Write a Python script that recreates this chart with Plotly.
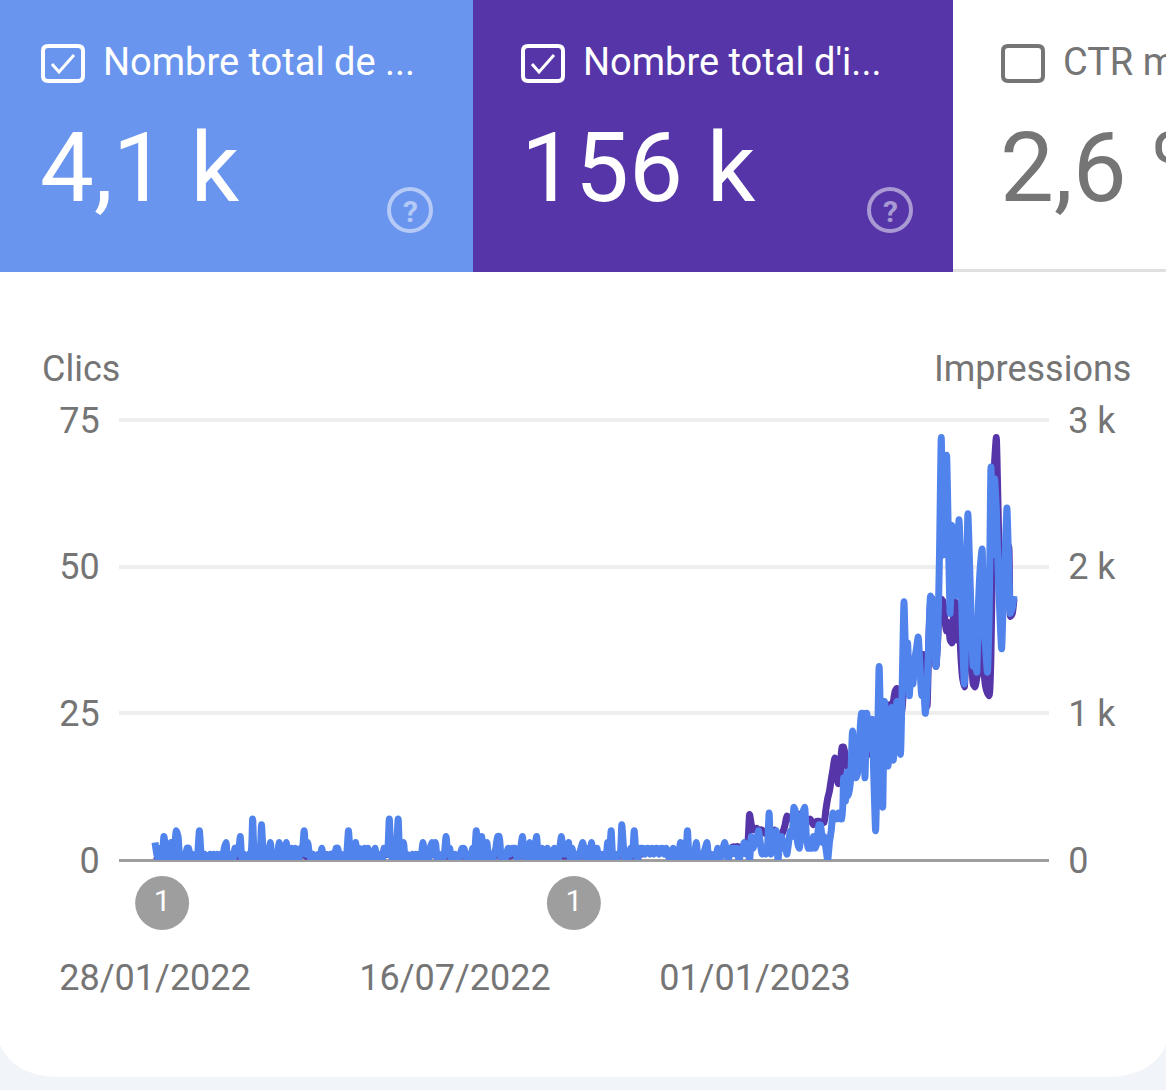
import plotly.graph_objects as go
import pandas as pd

# daily values, 28/01/2022 onwards
start_date = "2022-01-28"
clicks = [
    3, 1, 0, 2, 0, 4, 2, 0, 1, 3,
    0, 2, 5, 4, 0, 1, 0, 0, 2, 2,
    0, 1, 0, 0, 1, 5, 1, 0, 1, 0,
    0, 1, 0, 1, 0, 1, 0, 1, 0, 2,
    3, 0, 0, 1, 0, 2, 2, 1, 4, 0,
    1, 0, 0, 1, 1, 7, 0, 1, 1, 0,
    6, 1, 0, 0, 1, 3, 0, 1, 0, 1,
    3, 0, 1, 0, 3, 0, 1, 2, 0, 2,
    1, 0, 2, 2, 5, 1, 3, 1, 0, 1,
    0, 0, 1, 0, 2, 0, 1, 0, 0, 1,
    1, 0, 2, 2, 0, 1, 0, 0, 1, 5,
    1, 0, 1, 3, 0, 2, 1, 0, 2, 0,
    2, 0, 1, 0, 2, 0, 0, 1, 0, 2,
    2, 1, 7, 1, 0, 1, 2, 7, 0, 1,
    3, 0, 1, 0, 0, 1, 0, 1, 0, 1,
    1, 3, 0, 1, 0, 2, 3, 1, 3, 0,
    1, 0, 0, 1, 4, 1, 2, 0, 0, 1,
    0, 0, 1, 2, 2, 1, 0, 1, 0, 2,
    1, 5, 0, 1, 4, 1, 0, 3, 0, 1,
    0, 1, 2, 4, 4, 0, 1, 0, 1, 2,
    1, 2, 2, 2, 0, 1, 2, 4, 1, 0,
    2, 3, 1, 0, 2, 4, 0, 1, 2, 0,
    1, 2, 0, 0, 1, 2, 1, 0, 2, 4,
    1, 2, 1, 3, 0, 2, 0, 1, 0, 1,
    2, 3, 1, 0, 2, 1, 3, 0, 1, 2,
    0, 0, 1, 0, 0, 3, 1, 5, 0, 1,
    0, 1, 1, 6, 2, 0, 1, 0, 2, 1,
    5, 1, 0, 2, 2, 2, 1, 2, 2, 1,
    2, 1, 2, 2, 1, 2, 2, 1, 2, 1,
    0, 1, 2, 0, 1, 0, 3, 0, 2, 1,
    5, 0, 1, 0, 1, 3, 0, 1, 0, 1,
    2, 3, 0, 1, 0, 1, 0, 2, 0, 1,
    2, 3, 1, 0, 2, 1, 2, 1, 2, 0,
    1, 2, 3, 1, 2, 0, 4, 2, 3, 3,
    5, 3, 1, 2, 1, 2, 8, 1, 3, 2,
    5, 0, 3, 4, 2, 3, 1, 3, 5, 4,
    9, 8, 3, 2, 5, 8, 9, 4, 2, 2,
    2, 4, 2, 3, 6, 6, 3, 4, 2, 0,
    3, 5, 8, 7, 7, 8, 7, 7, 14, 10,
    15, 11, 14, 22, 18, 14, 15, 20, 25, 25,
    14, 25, 22, 19, 24, 14, 5, 18, 33, 20,
    9, 27, 22, 16, 21, 26, 17, 24, 27, 22,
    18, 30, 44, 35, 37, 28, 33, 30, 34, 36,
    38, 33, 28, 30, 25, 29, 38, 45, 44, 37,
    33, 38, 52, 72, 52, 58, 69, 55, 42, 57,
    48, 45, 50, 58, 50, 38, 30, 42, 59, 50,
    40, 33, 38, 32, 44, 50, 53, 40, 36, 32,
    42, 67, 52, 65, 60, 50, 42, 36, 45, 52,
    60, 50, 42, 43, 45,
]
impressions = [
    30, 22, 14, 28, 18, 36, 26, 12, 24, 40,
    16, 30, 44, 52, 20, 12, 22, 14, 30, 26,
    10, 20, 12, 14, 22, 38, 18, 10, 16, 12,
    14, 20, 10, 18, 12, 22, 16, 20, 14, 28,
    34, 16, 14, 22, 18, 30, 34, 24, 44, 20,
    36, 18, 14, 24, 26, 48, 18, 22, 26, 16,
    42, 24, 14, 12, 22, 36, 16, 24, 14, 22,
    34, 18, 22, 14, 32, 16, 20, 30, 18, 30,
    24, 14, 30, 34, 44, 24, 36, 22, 14, 20,
    12, 16, 22, 14, 28, 16, 22, 36, 14, 20,
    26, 14, 32, 30, 14, 22, 16, 18, 26, 46,
    24, 14, 22, 34, 16, 30, 24, 14, 30, 18,
    28, 14, 22, 16, 30, 14, 18, 24, 16, 32,
    36, 40, 52, 30, 16, 22, 34, 50, 18, 24,
    36, 16, 24, 14, 18, 24, 16, 22, 14, 20,
    24, 38, 16, 26, 18, 32, 40, 36, 44, 18,
    24, 14, 18, 22, 40, 26, 32, 14, 18, 22,
    14, 16, 24, 32, 30, 22, 14, 24, 18, 30,
    34, 44, 24, 22, 42, 28, 18, 36, 16, 24,
    14, 24, 30, 42, 40, 18, 22, 14, 24, 30,
    26, 32, 30, 34, 18, 24, 30, 40, 24, 14,
    30, 38, 24, 16, 30, 40, 18, 26, 30, 18,
    30, 36, 20, 18, 26, 30, 24, 14, 32, 42,
    26, 32, 24, 44, 20, 30, 18, 24, 18, 26,
    32, 38, 24, 18, 30, 26, 38, 18, 26, 30,
    18, 14, 24, 18, 16, 34, 24, 44, 30, 24,
    16, 26, 30, 44, 36, 22, 26, 16, 32, 26,
    42, 30, 26, 36, 40, 44, 52, 60, 64, 56,
    62, 48, 60, 66, 54, 60, 66, 50, 44, 32,
    20, 26, 34, 22, 30, 18, 38, 22, 32, 30,
    44, 22, 28, 18, 26, 38, 20, 24, 18, 26,
    32, 40, 22, 28, 20, 26, 18, 32, 24, 30,
    55, 62, 40, 58, 70, 85, 90, 88, 92, 86,
    60, 80, 70, 75, 110, 310, 240, 210, 205, 216,
    200, 205, 204, 190, 180, 175, 160, 170, 190, 204,
    180, 170, 160, 172, 200, 240, 300, 290, 280, 300,
    310, 300, 290, 312, 290, 270, 260, 255, 270, 280,
    264, 240, 250, 264, 264, 260, 256, 256, 344, 420,
    470, 548, 620, 696, 600, 520, 560, 768, 770, 700,
    640, 600, 620, 650, 700, 640, 620, 680, 720, 700,
    690, 740, 720, 800, 860, 820, 780, 880, 940, 900,
    980, 1040, 1030, 1050, 1060, 1030, 1080, 1150, 1170, 1100,
    960, 1040, 1200, 1300, 1400, 1250, 1320, 1230, 1300, 1350,
    1320, 1380, 1400, 1400, 1200, 1050, 1500, 1750, 1780, 1500,
    1320, 1500, 1750, 1780, 1760, 1640, 1560, 1620, 1500, 1480,
    1700, 1760, 1500, 1700, 1400, 1240, 1180, 1500, 1900, 1700,
    1400, 1200, 1180, 1240, 1300, 1440, 1600, 1300, 1180, 1140,
    1120, 1400, 2200, 2700, 2880, 2400, 1900, 1700, 1900, 2000,
    2100, 2140, 1660, 1680, 1780,
]
annotation_dates = ["2022-02-01", "2022-09-21"]
annotation_counts = ["1", "1"]

click_ticks = [0, 25, 50, 75]
impression_ticks = [0, 1000, 2000, 3000]
impression_labels = ["0", "1 k", "2 k", "3 k"]
date_ticks = ["2022-01-28", "2022-07-16", "2023-01-01"]

WIDTH = 1166
HEIGHT = 1090
BLUE = "#5083ec"
PURPLE = "#5535a8"
TILE_BLUE = "#6a95ee"
GREY = "#757575"
PAGE = "#f1f4f9"
FONT = "Roboto"
# plotly drops a gridline sitting right on the range end, so leave 2px of headroom over the top tick
HEADROOM = 442 / 440


def px(x):
    return x / WIDTH


def py(y):
    return 1 - y / HEIGHT


def rect(x0, y0, x1, y1, color):
    return dict(type="rect", xref="paper", yref="paper", x0=px(x0), x1=px(x1),
                y0=py(y1), y1=py(y0), fillcolor=color, line_width=0, layer="below")


def rounded(x0, y0, x1, y1, r):
    return (f"M {px(x0+r)},{py(y0)} L {px(x1-r)},{py(y0)} Q {px(x1)},{py(y0)} {px(x1)},{py(y0+r)} "
            f"L {px(x1)},{py(y1-r)} Q {px(x1)},{py(y1)} {px(x1-r)},{py(y1)} "
            f"L {px(x0+r)},{py(y1)} Q {px(x0)},{py(y1)} {px(x0)},{py(y1-r)} "
            f"L {px(x0)},{py(y0+r)} Q {px(x0)},{py(y0)} {px(x0+r)},{py(y0)} Z")


def text(x, y, label, size, color, anchor="left"):
    return dict(xref="paper", yref="paper", x=px(x), y=py(y), text=label, showarrow=False,
                xanchor=anchor, yanchor="middle", font=dict(family=FONT, size=size, color=color))


dates = pd.date_range(start_date, periods=len(clicks), freq="D")

fig = go.Figure()
# impressions sit on the base y axis so that the clicks line is painted over them
fig.add_trace(go.Scatter(x=dates, y=impressions, mode="lines", name="Impressions",
                         line=dict(color=PURPLE, width=7, shape="spline", smoothing=0.5), cliponaxis=False))
fig.add_trace(go.Scatter(x=dates, y=clicks, yaxis="y2", mode="lines", name="Clics",
                         line=dict(color=BLUE, width=7, shape="spline", smoothing=0.5), cliponaxis=False))
fig.add_trace(go.Scatter(x=annotation_dates, y=[0.5, 0.5], yaxis="y3", mode="markers+text", text=annotation_counts,
                         textposition="middle center", textfont=dict(family=FONT, size=30, color="white"),
                         marker=dict(color="#9e9e9e", size=54), cliponaxis=False))

shapes = [
    dict(type="path", path=rounded(-6, 100, WIDTH + 6, 1077, 66), xref="paper", yref="paper",
         fillcolor="white", line_width=0, layer="below"),
    rect(953, 269, WIDTH, 272, "#e0e0e0"),
    rect(0, 0, 473, 272, TILE_BLUE),
    rect(473, 0, 953, 272, PURPLE),
    rect(953, 0, WIDTH, 269, "white"),
]
annotations = [
    text(40, 369, "Clics", 36, GREY),
    text(1133, 369, "Impressions", 36, GREY, "right"),
    text(101, 62, "Nombre total de ...", 38, "white"),
    text(581, 62, "Nombre total d'i...", 38, "white"),
    text(1061, 62, "CTR moyen", 38, GREY),
    text(38, 168, "4,1 k", 96, "white"),
    text(519, 168, "156 k", 96, "white"),
    text(998, 168, "2,6 %", 96, GREY),
]
for offset, color, checked in [(0, "white", True), (480, "white", True), (960, GREY, False)]:
    shapes.append(dict(type="path", path=rounded(43 + offset, 46, 83 + offset, 81, 5),
                       xref="paper", yref="paper", line=dict(color=color, width=4)))
    if checked:
        shapes.append(dict(type="path", xref="paper", yref="paper", line=dict(color=color, width=3),
                           path=f"M {px(52+offset)},{py(64)} L {px(59+offset)},{py(72)} L {px(74+offset)},{py(55)}"))
for cx in [410, 890]:
    shapes.append(dict(type="circle", xref="paper", yref="paper", x0=px(cx - 21), x1=px(cx + 21),
                       y0=py(231), y1=py(189), line=dict(color="rgba(255,255,255,0.5)", width=4)))
    annotations.append(text(cx, 211, "<b>?</b>", 30, "rgba(255,255,255,0.5)", "center"))

fig.update_layout(
    template="none",
    width=WIDTH,
    height=HEIGHT,
    margin=dict(l=0, r=0, t=0, b=0, pad=0),
    paper_bgcolor=PAGE,
    plot_bgcolor="rgba(0,0,0,0)",
    showlegend=False,
    font=dict(family=FONT, color=GREY),
    shapes=shapes,
    annotations=annotations,
    xaxis=dict(
        domain=[px(119), px(1049)],
        range=[pd.Timestamp(start_date) - pd.Timedelta(days=20.3), pd.Timestamp(start_date) + pd.Timedelta(days=503.7)],
        tickvals=date_ticks,
        tickformat="%d/%m/%Y",
        ticks="outside",
        ticklen=86,
        tickcolor="rgba(0,0,0,0)",
        tickfont=dict(size=36, color=GREY),
        showgrid=False,
        showline=False,
        zeroline=False,
        automargin=False,
    ),
    yaxis=dict(
        domain=[py(860), py(418)],
        side="right",
        range=[0, 3000 * HEADROOM],
        tickvals=impression_ticks,
        ticktext=impression_labels,
        ticks="outside",
        ticklen=11,
        tickcolor="rgba(0,0,0,0)",
        tickfont=dict(size=36, color=GREY),
        gridcolor="#eeeeee",
        gridwidth=4,
        zeroline=True,
        zerolinecolor="#9e9e9e",
        zerolinewidth=3,
        automargin=False,
    ),
    yaxis2=dict(
        domain=[py(860), py(418)],
        overlaying="y",
        side="left",
        anchor="x",
        range=[0, 75 * HEADROOM],
        tickvals=click_ticks,
        ticks="outside",
        ticklen=11,
        tickcolor="rgba(0,0,0,0)",
        tickfont=dict(size=36, color=GREY),
        showgrid=False,
        zeroline=False,
        automargin=False,
    ),
    # strip under the plot that only carries the annotation badges
    yaxis3=dict(domain=[py(931), py(875)], range=[0, 1], anchor="x", visible=False, automargin=False),
)

fig.write_html("out.html", config=dict(displayModeBar=False), post_script="document.body.style.margin='0';")
